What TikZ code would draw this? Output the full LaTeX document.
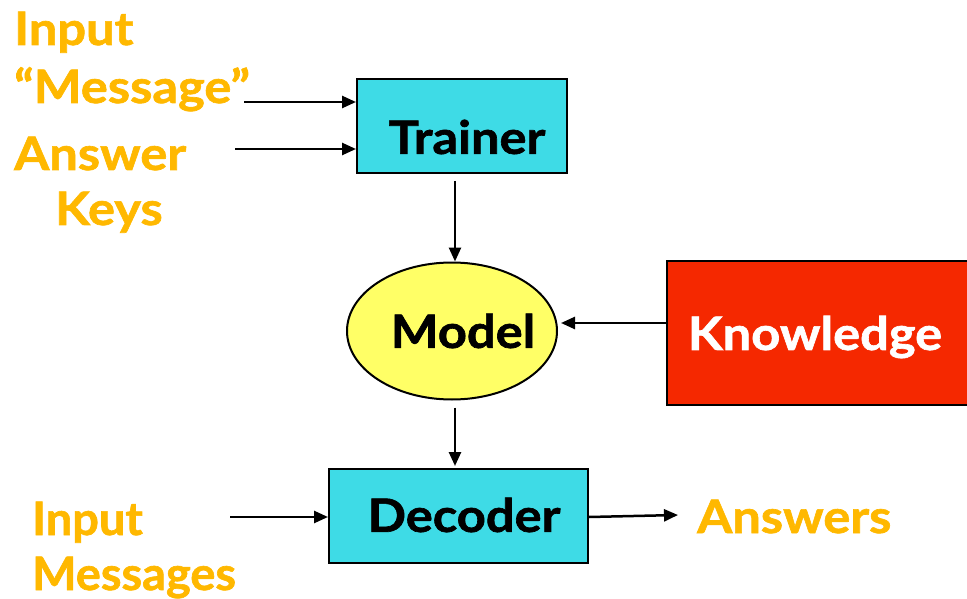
\documentclass[tikz,border=0pt]{standalone}
\usepackage{fontspec}
\setmainfont{Lato}[BoldFeatures={FakeBold=1.4, FakeStretch=1.1}]
\newfontfamily\narrowlato{Lato}[BoldFeatures={FakeBold=1.4, FakeStretch=1.02}]
\usetikzlibrary{arrows.meta,shapes.geometric}
\definecolor{labelgold}{RGB}{255,184,0}
\definecolor{boxcyan}{RGB}{62,219,230}
\definecolor{modelyellow}{RGB}{255,255,102}
\definecolor{knowred}{RGB}{245,40,0}
\tikzset{
  x=1pt, y=-1pt,
  every node/.style={font=\fontsize{46}{52}\selectfont\bfseries, inner sep=0pt},
  lbl/.style={text=labelgold, anchor=base west},
  narrowlbl/.style={lbl, font=\fontsize{46}{52}\selectfont\narrowlato\bfseries},
  blk/.style={draw=black, line width=2pt, fill=boxcyan},
  conn/.style={draw=black, line width=2.5pt, -{Triangle[length=14pt,width=12pt]}},
}
\begin{document}
\begin{tikzpicture}
\useasboundingbox (0,0) rectangle (967,599);

% blocks
\node[blk, minimum width=210pt, minimum height=94pt] (trainer) at (462,126) {};
\node (trainerlbl) at (467,137) {Trainer};
\node[draw=black, line width=2pt, fill=modelyellow, ellipse, minimum width=210pt, minimum height=137pt] (model) at (452,331) {};
\node (modellbl) at (463,331) {Model};
\node[draw=black, line width=2pt, fill=knowred, minimum width=310pt, minimum height=144pt] (know) at (822,333) {};
\node[text=white] (knowlbl) at (815,337) {Knowledge};
\node[blk, minimum width=259pt, minimum height=94pt] (decoder) at (458.5,516) {};
\node (decoderlbl) at (464,515) {Decoder};

% labels
\node[lbl] (in1) at (14,45) {Input};
\node[lbl] (msg) at (14,103) {“Message”};
\node[lbl] (ans1) at (14,170) {Answer};
\node[lbl] (keys) at (55,225) {Keys};
\node[narrowlbl] (in2) at (32,535) {Input};
\node[narrowlbl] (msgs) at (32,590) {Messages};
\node[lbl] (answers) at (697,533) {Answers};

% connector ends
\coordinate (m0) at (244,102);
\coordinate (a0) at (235,149);
\coordinate (i0) at (230,517);
\coordinate (o1) at (678,515);
\coordinate (vx) at (455,0);
\coordinate (hy) at (0,323);

\draw[conn] (m0) -- (m0 -| trainer.west);
\draw[conn] (a0) -- (a0 -| trainer.west);
\draw[conn, shorten <=7pt] (trainer.south -| vx) -- (model.north -| vx);
\draw[conn, shorten >=3pt] (know.west |- hy) -- (model.east |- hy);
\draw[conn, shorten <=7pt, shorten >=2pt] (model.south -| vx) -- (decoder.north -| vx);
\draw[conn] (i0) -- (i0 -| decoder.west);
\draw[conn] (decoder.east |- 0,517) -- (o1);
\end{tikzpicture}
\end{document}
